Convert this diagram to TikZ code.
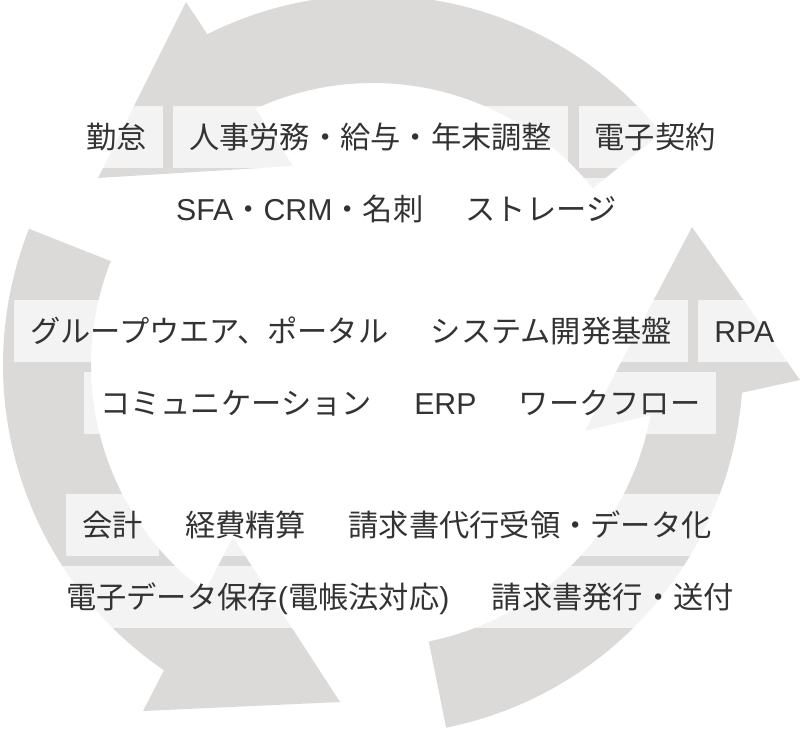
\documentclass[tikz,border=0pt]{standalone}
\usepackage{fontspec}
\usetikzlibrary{positioning,calc}
\newfontfamily\labelfont{Noto Sans CJK JP}
\newfontfamily\latinfont{Liberation Sans}
\newcommand\tagfont{\labelfont\fontsize{30.25pt}{36pt}\selectfont}
\newcommand\lat[1]{{\latinfont #1}}
\definecolor{ringgray}{HTML}{DCDAD9}
\definecolor{tagtext}{HTML}{333333}
\tikzset{
  tag/.style={fill=white, fill opacity=0.7, text opacity=1, text=tagtext,
    inner xsep=16pt, inner ysep=0pt, minimum height=62pt,
    text height=25pt, text depth=2pt, font=\tagfont},
  gap/.style={right=10pt of #1}
}
\begin{document}
\begin{tikzpicture}[x=1pt, y=1pt]
	\useasboundingbox (0,0) rectangle (800,732);
	\coordinate (hub) at (373,367);
	% three ring arrows, counterclockwise
	\fill[ringgray] (hub) ++(38.8:282pt) arc[start angle=38.8, end angle=114.6, radius=282pt]
		-- (293,566) -- (98,554) -- (186,730) -- ($(hub)+(116.6:370pt)$)
		arc[start angle=116.6, end angle=38.8, radius=370pt] -- cycle;
	\fill[ringgray] (hub) ++(158.4:282pt) arc[start angle=158.4, end angle=233.4, radius=282pt]
		-- (233,195) -- (340,30) -- (143,21) -- ($(hub)+(235.6:370pt)$)
		arc[start angle=235.6, end angle=158.4, radius=370pt] -- cycle;
	\fill[ringgray] (hub) ++(281.4:282pt) arc[start angle=281.4, end angle=349.8, radius=282pt]
		-- (585,301) -- (692,505) -- (800,352) -- ($(hub)+(355.7:370pt)$)
		arc[start angle=355.7, end angle=281.4, radius=370pt] -- cycle;
	% row 1
	\node [tag, anchor=west] (kintai) at (70,595) {勤怠};
	\node [tag, gap=kintai] (jinji) {人事労務・給与・年末調整};
	\node [tag, gap=jinji] (keiyaku) {電子契約};
	% row 2
	\node [tag, anchor=west] (sfa) at (160,523) {\lat{SFA}・\lat{CRM}・名刺};
	\node [tag, gap=sfa] (storage) {ストレージ};
	% row 3
	\node [tag, anchor=west] (groupware) at (14,401) {グループウエア、ポータル};
	\node [tag, gap=groupware] (sysdev) {システム開発基盤};
	\node [tag, gap=sysdev] (rpa) {\lat{RPA}};
	% row 4
	\node [tag, anchor=west] (comm) at (84,329) {コミュニケーション};
	\node [tag, gap=comm] (erp) {\lat{ERP}};
	\node [tag, gap=erp] (workflow) {ワークフロー};
	% row 5
	\node [tag, anchor=west] (kaikei) at (66,207) {会計};
	\node [tag, gap=kaikei] (keihi) {経費精算};
	\node [tag, gap=keihi] (seikyu) {請求書代行受領・データ化};
	% row 6
	\node [tag, anchor=west] (hozon) at (50,135) {電子データ保存\lat{(}電帳法対応\lat{)}};
	\node [tag, gap=hozon] (hakko) {請求書発行・送付};
\end{tikzpicture}
\end{document}
